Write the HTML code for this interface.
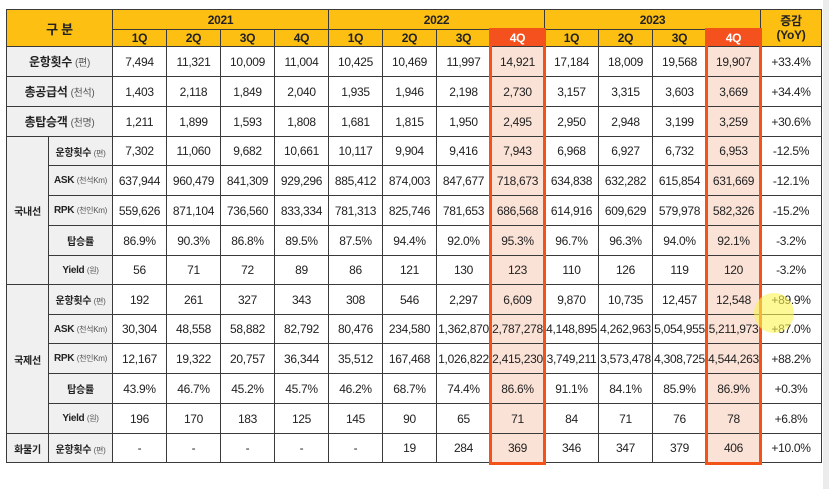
<!DOCTYPE html>
<html><head><meta charset="utf-8"><style>
body{margin:0;width:829px;height:489px;background:#fff;position:relative;overflow:hidden;font-family:"Liberation Sans","Noto Sans CJK KR",sans-serif;}
.side{position:absolute;left:823px;top:0;width:6px;height:489px;background:#ececec}
table{position:absolute;left:6px;top:9px;border-collapse:collapse;table-layout:fixed;}
td{border:1px solid #3a3a3a;text-align:center;font-size:12px;color:#222;padding:0;white-space:nowrap;overflow:hidden;letter-spacing:-0.3px}
.h{background:#fcbf12;font-weight:bold;color:#222;font-size:12px}
.h4{background:#f4511e;color:#fff;font-weight:bold}
.lab{background:#f0f0f0;font-weight:bold;font-size:12px}
.lab small{font-weight:normal;font-size:10px;color:#555}
.sub{background:#f0f0f0;font-weight:bold;font-size:10px}
.sub small{font-weight:normal;font-size:8px;color:#555}
.hl{background:#fbe2d6}
.box{position:absolute;border:3px solid #f25319;box-sizing:border-box;pointer-events:none}
.cursor{position:absolute;left:754px;top:293px;width:40px;height:40px;border-radius:50%;background:rgba(250,245,80,0.6)}
</style></head><body>
<div class="side"></div>
<table>
<colgroup><col style="width:42px"><col style="width:64px">
<col style="width:54px"><col style="width:54px"><col style="width:54px"><col style="width:54px">
<col style="width:54px"><col style="width:54px"><col style="width:54px"><col style="width:54px">
<col style="width:54px"><col style="width:54px"><col style="width:54px"><col style="width:54px">
<col style="width:61px"></colgroup>
<tr style="height:20px">
<td class="h" colspan="2" rowspan="2" style="font-size:13px">구 분</td>
<td class="h" colspan="4">2021</td>
<td class="h" colspan="4">2022</td>
<td class="h" colspan="4">2023</td>
<td class="h" rowspan="2" style="line-height:14px">증감<br>(YoY)</td></tr>
<tr style="height:17px">
<td class="h">1Q</td><td class="h">2Q</td><td class="h">3Q</td><td class="h">4Q</td>
<td class="h">1Q</td><td class="h">2Q</td><td class="h">3Q</td><td class="h4">4Q</td>
<td class="h">1Q</td><td class="h">2Q</td><td class="h">3Q</td><td class="h4">4Q</td></tr>
<tr style="height:30px"><td class="lab" colspan="2">운항횟수 <small>(편)</small></td><td>7,494</td><td>11,321</td><td>10,009</td><td>11,004</td><td>10,425</td><td>10,469</td><td>11,997</td><td class="hl">14,921</td><td>17,184</td><td>18,009</td><td>19,568</td><td class="hl">19,907</td><td>+33.4%</td></tr>
<tr style="height:30px"><td class="lab" colspan="2">총공급석 <small>(천석)</small></td><td>1,403</td><td>2,118</td><td>1,849</td><td>2,040</td><td>1,935</td><td>1,946</td><td>2,198</td><td class="hl">2,730</td><td>3,157</td><td>3,315</td><td>3,603</td><td class="hl">3,669</td><td>+34.4%</td></tr>
<tr style="height:30px"><td class="lab" colspan="2">총탑승객 <small>(천명)</small></td><td>1,211</td><td>1,899</td><td>1,593</td><td>1,808</td><td>1,681</td><td>1,815</td><td>1,950</td><td class="hl">2,495</td><td>2,950</td><td>2,948</td><td>3,199</td><td class="hl">3,259</td><td>+30.6%</td></tr>
<tr style="height:29px"><td class="sub" rowspan="5" style="font-size:10px">국내선</td><td class="sub">운항횟수 <small>(편)</small></td><td>7,302</td><td>11,060</td><td>9,682</td><td>10,661</td><td>10,117</td><td>9,904</td><td>9,416</td><td class="hl">7,943</td><td>6,968</td><td>6,927</td><td>6,732</td><td class="hl">6,953</td><td>-12.5%</td></tr>
<tr style="height:30px"><td class="sub">ASK <small>(천석Km)</small></td><td>637,944</td><td>960,479</td><td>841,309</td><td>929,296</td><td>885,412</td><td>874,003</td><td>847,677</td><td class="hl">718,673</td><td>634,838</td><td>632,282</td><td>615,854</td><td class="hl">631,669</td><td>-12.1%</td></tr>
<tr style="height:30px"><td class="sub">RPK <small>(천인Km)</small></td><td>559,626</td><td>871,104</td><td>736,560</td><td>833,334</td><td>781,313</td><td>825,746</td><td>781,653</td><td class="hl">686,568</td><td>614,916</td><td>609,629</td><td>579,978</td><td class="hl">582,326</td><td>-15.2%</td></tr>
<tr style="height:30px"><td class="sub">탑승률</td><td>86.9%</td><td>90.3%</td><td>86.8%</td><td>89.5%</td><td>87.5%</td><td>94.4%</td><td>92.0%</td><td class="hl">95.3%</td><td>96.7%</td><td>96.3%</td><td>94.0%</td><td class="hl">92.1%</td><td>-3.2%</td></tr>
<tr style="height:29px"><td class="sub">Yield <small>(원)</small></td><td>56</td><td>71</td><td>72</td><td>89</td><td>86</td><td>121</td><td>130</td><td class="hl">123</td><td>110</td><td>126</td><td>119</td><td class="hl">120</td><td>-3.2%</td></tr>
<tr style="height:30px"><td class="sub" rowspan="5">국제선</td><td class="sub">운항횟수 <small>(편)</small></td><td>192</td><td>261</td><td>327</td><td>343</td><td>308</td><td>546</td><td>2,297</td><td class="hl">6,609</td><td>9,870</td><td>10,735</td><td>12,457</td><td class="hl">12,548</td><td>+89.9%</td></tr>
<tr style="height:29px"><td class="sub">ASK <small>(천석Km)</small></td><td>30,304</td><td>48,558</td><td>58,882</td><td>82,792</td><td>80,476</td><td>234,580</td><td>1,362,870</td><td class="hl">2,787,278</td><td>4,148,895</td><td>4,262,963</td><td>5,054,955</td><td class="hl">5,211,973</td><td>+87.0%</td></tr>
<tr style="height:30px"><td class="sub">RPK <small>(천인Km)</small></td><td>12,167</td><td>19,322</td><td>20,757</td><td>36,344</td><td>35,512</td><td>167,468</td><td>1,026,822</td><td class="hl">2,415,230</td><td>3,749,211</td><td>3,573,478</td><td>4,308,725</td><td class="hl">4,544,263</td><td>+88.2%</td></tr>
<tr style="height:30px"><td class="sub">탑승률</td><td>43.9%</td><td>46.7%</td><td>45.2%</td><td>45.7%</td><td>46.2%</td><td>68.7%</td><td>74.4%</td><td class="hl">86.6%</td><td>91.1%</td><td>84.1%</td><td>85.9%</td><td class="hl">86.9%</td><td>+0.3%</td></tr>
<tr style="height:30px"><td class="sub">Yield <small>(원)</small></td><td>196</td><td>170</td><td>183</td><td>125</td><td>145</td><td>90</td><td>65</td><td class="hl">71</td><td>84</td><td>71</td><td>76</td><td class="hl">78</td><td>+6.8%</td></tr>
<tr style="height:29px"><td class="sub">화물기</td><td class="sub">운항횟수 <small>(편)</small></td><td>-</td><td>-</td><td>-</td><td>-</td><td>-</td><td>19</td><td>284</td><td class="hl">369</td><td>346</td><td>347</td><td>379</td><td class="hl">406</td><td>+10.0%</td></tr>
</table>
<div class="box" style="left:489px;top:28px;width:57px;height:437px"></div>
<div class="box" style="left:705px;top:28px;width:57px;height:437px"></div>
<div class="cursor"></div>
</body></html>
